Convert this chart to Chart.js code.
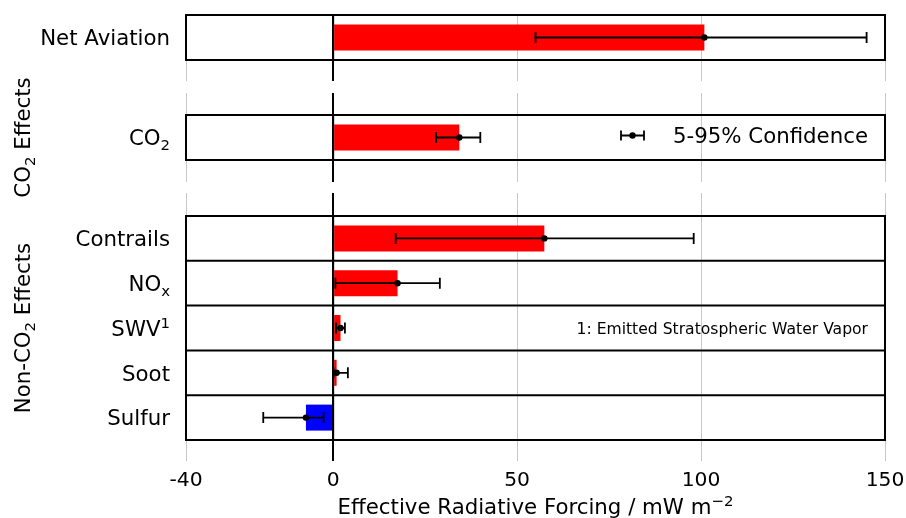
<!DOCTYPE html>
<html>
<head>
<meta charset="utf-8">
<script src="https://cdn.jsdelivr.net/npm/chart.js@4.4.1/dist/chart.umd.min.js"></script>
<style>
  html, body { margin: 0; padding: 0; background: #ffffff; }
  body { width: 906px; height: 518px; position: relative; overflow: hidden; }
  canvas { position: absolute; left: 0; }
</style>
</head>
<body>
<canvas id="cA" width="906" height="81" style="top:0px"></canvas>
<canvas id="cB" width="906" height="89" style="top:93px"></canvas>
<canvas id="cC" width="906" height="325" style="top:193px"></canvas>
<canvas id="cT" width="906" height="518" style="top:0px;pointer-events:none"></canvas>
<script>
// ---------------- DATA ----------------
const netLabels = ["Net Aviation"];
const netValues = [100.9];
const netLower = [55];
const netUpper = [145];

const co2Labels = ["CO2"];
const co2Values = [34.3];
const co2Lower = [28];
const co2Upper = [40];

const nonCo2Labels = ["Contrails", "NOx", "SWV", "Soot", "Sulfur"];
const nonCo2Values = [57.4, 17.5, 2.0, 0.94, -7.4];
const nonCo2Lower = [17, 0.6, 0.8, 0.1, -19];
const nonCo2Upper = [98, 29, 3.2, 4.0, -2.6];

const tickValues = [-40, 0, 50, 100, 150];
const tickLabels = ["-40", "0", "50", "100", "150"];
const xMin = -40, xMax = 150;

// ---------------- STYLE ----------------
const FONT = '"DejaVu Sans", sans-serif';
const LBL = 21.3;
const POS = '#ff0000', NEG = '#0000ff';

// rich label parts (text, mode: 0 normal, 1 subscript, 2 superscript)
const richLabels = {
  "Net Aviation": [["Net Aviation", 0]],
  "CO2": [["CO", 0], ["2", 1]],
  "Contrails": [["Contrails", 0]],
  "NOx": [["NO", 0], ["x", 1]],
  "SWV": [["SWV", 0], ["1", 2]],
  "Soot": [["Soot", 0]],
  "Sulfur": [["Sulfur", 0]]
};

function drawRich(ctx, parts, x, y, align, size) {
  const small = size * 0.7;
  let total = 0;
  const widths = parts.map(p => {
    ctx.font = (p[1] ? small : size) + 'px ' + FONT;
    const w = ctx.measureText(p[0]).width;
    total += w;
    return w;
  });
  let cx = align === 'right' ? x - total : (align === 'center' ? x - total / 2 : x);
  ctx.textAlign = 'left';
  ctx.textBaseline = 'alphabetic';
  parts.forEach((p, i) => {
    ctx.font = (p[1] ? small : size) + 'px ' + FONT;
    const dy = p[1] === 1 ? size * 0.22 : (p[1] === 2 ? -size * 0.36 : 0);
    ctx.fillText(p[0], cx, y + dy);
    cx += widths[i];
  });
}

function gridColor(ctx) {
  const v = ctx.tick ? ctx.tick.value : null;
  return v === 0 ? '#000000' : '#c8c8c8';
}
function gridWidth(ctx) {
  const v = ctx.tick ? ctx.tick.value : null;
  return v === 0 ? 2 : 1;
}
function setTicks(scale) {
  scale.ticks = tickValues.map(v => ({ value: v }));
}

const panelPlugin = {
  id: 'panel',
  afterDatasetsDraw(chart, args, opts) {
    const ctx = chart.ctx;
    const xs = chart.scales.x;
    const ys = chart.scales.y;
    const area = chart.chartArea;
    ctx.save();
    ctx.strokeStyle = '#000';
    ctx.lineWidth = 2;
    const x0 = xs.getPixelForValue(0);
    ctx.beginPath();
    ctx.moveTo(x0, area.top);
    ctx.lineTo(x0, area.bottom);
    ctx.stroke();
    const labels = chart.data.labels;
    for (let i = 1; i < labels.length; i++) {
      const yb = (ys.getPixelForValue(i - 1) + ys.getPixelForValue(i)) / 2;
      ctx.beginPath();
      ctx.moveTo(area.left, yb);
      ctx.lineTo(area.right, yb);
      ctx.stroke();
    }
    const lo = opts.lower, hi = opts.upper, vals = opts.values;
    ctx.lineWidth = 1.8;
    ctx.fillStyle = '#000';
    for (let i = 0; i < vals.length; i++) {
      const y = ys.getPixelForValue(i);
      const xl = xs.getPixelForValue(lo[i]);
      const xh = xs.getPixelForValue(hi[i]);
      const xv = xs.getPixelForValue(vals[i]);
      ctx.beginPath();
      ctx.moveTo(xl, y); ctx.lineTo(xh, y);
      ctx.moveTo(xl, y - 5.5); ctx.lineTo(xl, y + 5.5);
      ctx.moveTo(xh, y - 5.5); ctx.lineTo(xh, y + 5.5);
      ctx.stroke();
      ctx.beginPath();
      ctx.arc(xv, y, 3.2, 0, Math.PI * 2);
      ctx.fill();
    }
    ctx.lineWidth = 2;
    ctx.strokeRect(area.left, area.top, area.right - area.left, area.bottom - area.top);
    ctx.fillStyle = '#000';
    for (let i = 0; i < labels.length; i++) {
      const y = ys.getPixelForValue(i);
      drawRich(ctx, richLabels[labels[i]], area.left - 16, y + 7.7, 'right', LBL);
    }
    ctx.restore();
  }
};

function makeChart(id, labels, values, lower, upper, cfg) {
  const scales = {
    y: {
      type: 'category',
      position: 'left',
      offset: true,
      afterFit: s => { s.width = 186; },
      ticks: { display: false },
      grid: { display: false, drawTicks: false },
      border: { display: false }
    }
  };
  if (cfg.bottom) {
    scales.x = {
      type: 'linear', position: 'bottom', min: xMin, max: xMax,
      afterBuildTicks: setTicks,
      afterFit: s => { s.height = cfg.bottom; },
      ticks: { display: false },
      grid: { color: gridColor, lineWidth: gridWidth, tickColor: gridColor, tickWidth: gridWidth, tickLength: cfg.bottomTick },
      border: { display: false }
    };
  }
  if (cfg.top) {
    const key = cfg.bottom ? 'x2' : 'x';
    scales[key] = {
      type: 'linear', position: 'top', min: xMin, max: xMax,
      afterBuildTicks: setTicks,
      afterFit: s => { s.height = cfg.top; },
      ticks: { display: false },
      grid: { drawOnChartArea: !cfg.bottom, color: gridColor, lineWidth: gridWidth, tickColor: gridColor, tickWidth: gridWidth, tickLength: cfg.top },
      border: { display: false }
    };
  }
  return new Chart(document.getElementById(id), {
    type: 'bar',
    data: {
      labels: labels,
      datasets: [{
        data: values,
        xAxisID: 'x',
        backgroundColor: values.map(v => v < 0 ? NEG : POS),
        borderWidth: 0,
        categoryPercentage: 1.0,
        barPercentage: 0.58
      }]
    },
    options: {
      indexAxis: 'y',
      responsive: false,
      animation: false,
      events: [],
      layout: { padding: { top: cfg.padTop || 0, right: 21, left: 0, bottom: 0 } },
      plugins: {
        legend: { display: false },
        tooltip: { enabled: false },
        panel: { values: values, lower: lower, upper: upper }
      },
      scales: scales
    },
    plugins: [panelPlugin]
  });
}

const chartA = makeChart('cA', netLabels, netValues, netLower, netUpper, { padTop: 15, bottom: 21, bottomTick: 21 });
const chartB = makeChart('cB', co2Labels, co2Values, co2Lower, co2Upper, { top: 22, bottom: 22, bottomTick: 22 });
const chartC = makeChart('cC', nonCo2Labels, nonCo2Values, nonCo2Lower, nonCo2Upper, { top: 23, bottom: 78, bottomTick: 21 });

// ---------------- overlay texts ----------------
(function () {
  const ctx = document.getElementById('cT').getContext('2d');
  ctx.fillStyle = '#000';
  ctx.strokeStyle = '#000';
  const xs = chartC.scales.x;
  const areaB = chartB.chartArea;
  const areaC = chartC.chartArea;
  const offB = 93, offC = 193;
  const plotCenter = (areaC.left + areaC.right) / 2;

  // x tick labels, placed with the library's scale
  tickValues.forEach((v, i) => {
    drawRich(ctx, [[tickLabels[i], 0]], xs.getPixelForValue(v), 486, 'center', 20.3);
  });

  // axis title
  drawRich(ctx, [["Effective Radiative Forcing / mW m", 0], ["\u22122", 2]], plotCenter, 514, 'center', LBL);

  // group labels (rotated)
  ctx.save();
  ctx.translate(30, offB + (areaB.top + areaB.bottom) / 2);
  ctx.rotate(-Math.PI / 2);
  drawRich(ctx, [["CO", 0], ["2", 1], [" Effects", 0]], 0, 0, 'center', LBL);
  ctx.restore();
  ctx.save();
  ctx.translate(30, offC + (areaC.top + areaC.bottom) / 2);
  ctx.rotate(-Math.PI / 2);
  drawRich(ctx, [["Non-CO", 0], ["2", 1], [" Effects", 0]], 0, 0, 'center', LBL);
  ctx.restore();

  // legend in CO2 panel
  const ly = offB + (areaB.top + areaB.bottom) / 2 - 2;
  ctx.lineWidth = 1.8;
  ctx.beginPath();
  ctx.moveTo(621, ly); ctx.lineTo(644, ly);
  ctx.moveTo(621, ly - 5); ctx.lineTo(621, ly + 5);
  ctx.moveTo(644, ly - 5); ctx.lineTo(644, ly + 5);
  ctx.stroke();
  ctx.beginPath(); ctx.arc(632.5, ly, 3.2, 0, Math.PI * 2); ctx.fill();
  drawRich(ctx, [["5-95% Confidence", 0]], 868, ly + 7.7, 'right', LBL);

  // footnote in SWV row
  const swvY = offC + chartC.scales.y.getPixelForValue(2);
  drawRich(ctx, [["1: Emitted Stratospheric Water Vapor", 0]], 868, swvY + 5.6, 'right', 15.6);
})();
</script>
</body>
</html>
